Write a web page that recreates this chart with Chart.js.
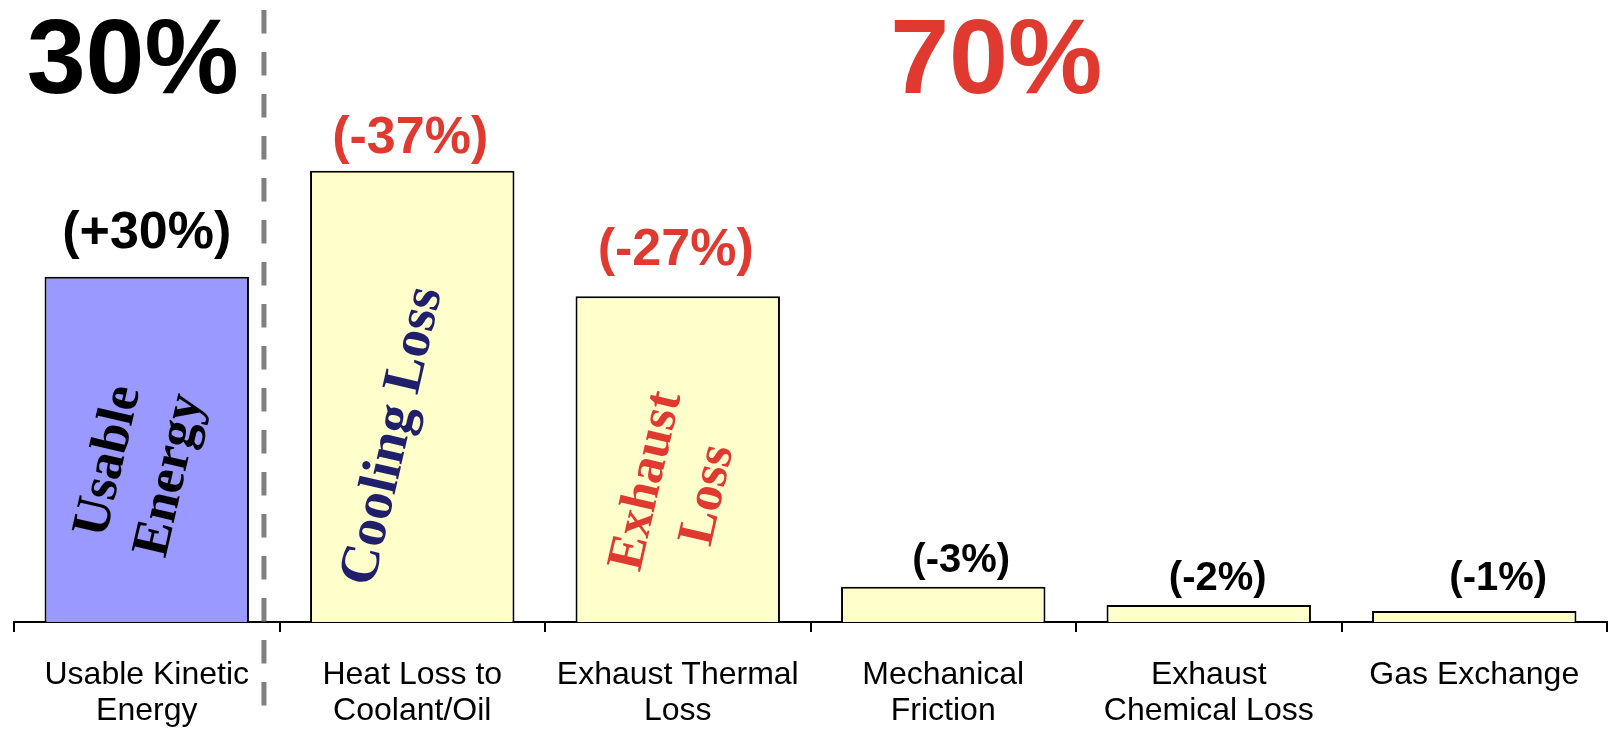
<!DOCTYPE html>
<html>
<head>
<meta charset="utf-8">
<script src="https://cdn.jsdelivr.net/npm/chart.js@4.4.1/dist/chart.umd.min.js"></script>
<style>
  html, body { margin: 0; padding: 0; background: #fff; }
  #wrap { width: 1608px; height: 732px; position: relative; }
</style>
</head>
<body>
<div id="wrap"><canvas id="energyChart"></canvas></div>
<script>
// Data
const categories = [
  ['Usable Kinetic', 'Energy'],
  ['Heat Loss to', 'Coolant/Oil'],
  ['Exhaust Thermal', 'Loss'],
  ['Mechanical', 'Friction'],
  ['Exhaust', 'Chemical Loss'],
  ['Gas Exchange']
];
const barValues = [28.3, 37.0, 26.7, 2.9, 1.4, 0.9];
const valueLabels = ['(+30%)', '(-37%)', '(-27%)', '(-3%)', '(-2%)', '(-1%)'];
const insideLabels = [['Usable', 'Energy'], ['Cooling Loss'], ['Exhaust', 'Loss'], [], [], []];
const usableShare = '30%';
const lossShare = '70%';

const RED = '#E03A30';
const NAVY = '#1F1F6B';
const barColors = ['#9999FF', '#FFFFCC', '#FFFFCC', '#FFFFCC', '#FFFFCC', '#FFFFCC'];
const valueColors = ['#000', RED, RED, '#000', '#000', '#000'];
const valueSizes = [52, 52, 52, 40, 40, 40];
const valueGap = [29, 18, 31, 15, 15, 21];     // baseline distance above bar top
const valueNudge = [0, -2, -2, 18, 9, 24];      // small x shifts as in the picture
const insideColors = ['#000', NAVY, RED];
const insideSizes = [53, 55, 52];
const insideNudge = [[-7, 19], [-19, 40], [0, 29]]; // offset from bar middle

const sansBold = size => 'bold ' + size + 'px "Liberation Sans", Arial, sans-serif';
const serifBold = size => 'bold ' + size + 'px "Liberation Serif", "Times New Roman", serif';

// Annotations: value labels, rotated captions, dashed divider, big shares
const annotate = {
  id: 'annotate',
  afterDatasetsDraw(chart) {
    const ctx = chart.ctx;
    const bars = chart.getDatasetMeta(0).data;

    ctx.save();
    ctx.textAlign = 'center';
    ctx.textBaseline = 'alphabetic';
    bars.forEach((bar, i) => {
      ctx.font = sansBold(valueSizes[i]);
      ctx.fillStyle = valueColors[i];
      ctx.fillText(valueLabels[i], bar.x + valueNudge[i], bar.y - valueGap[i]);
    });

    // rotated captions inside the big bars
    bars.forEach((bar, i) => {
      const lines = insideLabels[i];
      if (!lines.length) return;
      const cx = bar.x + insideNudge[i][0];
      const cy = (bar.y + bar.base) / 2 + insideNudge[i][1];
      ctx.save();
      ctx.translate(cx, cy);
      ctx.rotate(-77 * Math.PI / 180);
      ctx.font = serifBold(insideSizes[i]);
      ctx.fillStyle = insideColors[i];
      ctx.textBaseline = 'middle';
      lines.forEach((t, k) => {
        ctx.fillText(t, 0, (k - (lines.length - 1) / 2) * 63);
      });
      ctx.restore();
    });
    ctx.restore();
  },
  afterDraw(chart) {
    const ctx = chart.ctx;
    const bars = chart.getDatasetMeta(0).data;
    const x = chart.scales.x;

    // dashed divider between usable energy and losses
    const dashX = bars[0].x + bars[0].width / 2 + 15;
    ctx.save();
    ctx.strokeStyle = '#808080';
    ctx.lineWidth = 5;
    ctx.setLineDash([23.5, 18.5]);
    ctx.beginPath();
    ctx.moveTo(dashX, 10);
    ctx.lineTo(dashX, 708);
    ctx.stroke();
    ctx.restore();

    ctx.save();
    ctx.textAlign = 'center';
    ctx.textBaseline = 'alphabetic';
    ctx.font = sansBold(106);
    ctx.fillStyle = '#000';
    ctx.fillText(usableShare, bars[0].x - 14, 93);
    ctx.fillStyle = RED;
    ctx.fillText(lossShare, x.getPixelForValue(3) + 53, 93);
    ctx.restore();
  }
};

const ctx = document.getElementById('energyChart').getContext('2d');
const chart = new Chart(ctx, {
  type: 'bar',
  data: {
    labels: categories,
    datasets: [{
      data: barValues,
      backgroundColor: barColors,
      borderColor: '#000',
      borderWidth: 2,
      barPercentage: 0.77,
      categoryPercentage: 1
    }]
  },
  options: {
    responsive: true,
    maintainAspectRatio: false,
    animation: false,
    layout: { padding: { left: 14, right: 1, top: 0, bottom: 0 } },
    plugins: {
      legend: { display: false },
      tooltip: { enabled: false }
    },
    scales: {
      x: {
        afterFit: scale => { scale.height = 110; },
        border: { display: true, color: '#000', width: 2 },
        grid: {
          offset: true,
          drawOnChartArea: false,
          drawTicks: true,
          tickLength: 10,
          color: '#000',
          lineWidth: 2
        },
        ticks: {
          color: '#000',
          padding: 25,
          maxRotation: 0,
          autoSkip: false,
          font: { family: '"Liberation Sans", Arial, sans-serif', size: 32, lineHeight: 1.125 }
        }
      },
      y: {
        display: false,
        min: 0,
        max: 51
      }
    }
  },
  plugins: [annotate]
});
</script>
</body>
</html>
